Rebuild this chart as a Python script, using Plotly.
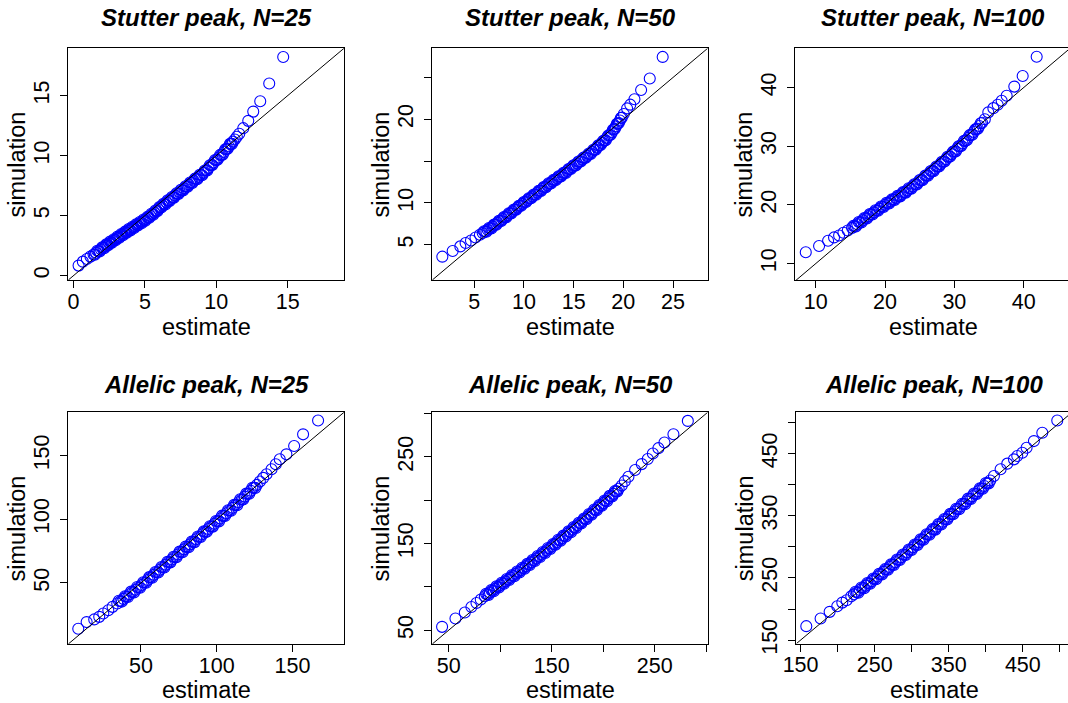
import plotly.graph_objects as go

# ---------------- data ----------------
titles = ["Stutter peak, N=25", "Stutter peak, N=50", "Stutter peak, N=100",
          "Allelic peak, N=25", "Allelic peak, N=50", "Allelic peak, N=100"]

# main quantile path
est1 = [0.35, 0.65, 0.93, 1.18, 1.40, 1.58, 1.75, 1.92, 2.08, 2.22, 2.36, 2.50, 2.63, 2.76, 2.89,
        3.02, 3.15, 3.28, 3.41, 3.54, 3.67, 3.80, 3.93, 4.06, 4.19, 4.32, 4.45, 4.58, 4.71, 4.84,
        4.97, 5.10, 5.24, 5.38, 5.52, 5.66, 5.80, 5.94, 6.08, 6.22, 6.37, 6.52, 6.67, 6.82, 6.97,
        7.12, 7.28, 7.44, 7.60, 7.76, 7.92, 8.08, 8.25, 8.42, 8.59, 8.76, 8.93, 9.10, 9.28, 9.46,
        9.64, 9.82, 10.00, 10.18, 10.36, 10.54, 10.72, 10.88, 11.03, 11.17, 11.30, 11.44, 11.61,
        11.89, 12.24, 12.59, 13.08, 13.71, 14.69]
sim1 = [0.83, 1.16, 1.38, 1.58, 1.76, 1.90, 2.04, 2.18, 2.32, 2.44, 2.56, 2.68, 2.78, 2.88, 2.99,
        3.10, 3.20, 3.30, 3.41, 3.51, 3.62, 3.72, 3.82, 3.92, 4.02, 4.12, 4.22, 4.32, 4.42, 4.52,
        4.62, 4.73, 4.85, 4.98, 5.11, 5.25, 5.39, 5.55, 5.70, 5.83, 5.96, 6.10, 6.24, 6.38, 6.52,
        6.67, 6.82, 6.97, 7.12, 7.27, 7.42, 7.58, 7.74, 7.90, 8.06, 8.22, 8.38, 8.56, 8.76, 8.98,
        9.21, 9.42, 9.64, 9.85, 10.06, 10.30, 10.55, 10.78, 10.98, 11.17, 11.35, 11.57, 11.82,
        12.29, 12.90, 13.67, 14.53, 16.02, 18.23]
# extra points inside the dense band
est1b = [1.49, 1.66, 1.83, 2.00, 2.15, 2.29, 2.43, 2.56, 2.69, 2.82, 2.95, 3.08, 3.21, 3.34, 3.47,
         3.60, 3.73, 3.86, 3.99, 4.12, 4.25, 4.38, 4.51, 4.64, 4.77, 4.90, 5.03, 5.17, 5.31, 5.45,
         5.59, 5.73, 5.87, 6.01, 6.15, 6.29, 6.44, 6.59, 6.74, 6.89, 7.04, 7.20, 7.36, 7.52, 7.68,
         7.84, 8.00, 8.16, 8.33, 8.50, 8.67, 8.84, 9.01, 9.19, 9.37, 9.55, 9.73, 9.91, 10.09, 10.27,
         10.45, 10.63, 10.80, 10.96, 11.10]
sim1b = [1.73, 2.07, 2.01, 2.35, 2.28, 2.60, 2.52, 2.83, 2.73, 3.03, 2.94, 3.25, 3.15, 3.46, 3.36,
         3.66, 3.57, 3.87, 3.77, 4.07, 3.97, 4.27, 4.17, 4.47, 4.37, 4.67, 4.58, 4.89, 4.82, 5.15,
         5.08, 5.42, 5.37, 5.72, 5.67, 5.99, 5.93, 6.27, 6.21, 6.55, 6.50, 6.85, 6.80, 7.15, 7.10,
         7.45, 7.40, 7.76, 7.72, 8.08, 8.04, 8.40, 8.37, 8.76, 8.77, 9.20, 9.22, 9.63, 9.65, 10.06,
         10.08, 10.53, 10.57, 10.98, 10.98]

est2 = [1.79, 2.83, 3.60, 4.13, 4.67, 5.13, 5.57, 5.85, 6.10, 6.35, 6.60, 6.85, 7.10, 7.35, 7.60,
        7.85, 8.10, 8.35, 8.60, 8.85, 9.10, 9.35, 9.60, 9.85, 10.10, 10.35, 10.60, 10.85, 11.10,
        11.35, 11.60, 11.85, 12.10, 12.35, 12.60, 12.85, 13.10, 13.35, 13.60, 13.85, 14.10, 14.35,
        14.60, 14.85, 15.10, 15.35, 15.60, 15.85, 16.10, 16.35, 16.60, 16.85, 17.10, 17.35, 17.60,
        17.85, 18.10, 18.35, 18.60, 18.85, 19.05, 19.25, 19.45, 19.65, 19.85, 20.05, 20.38, 20.70,
        21.12, 21.79, 22.66, 23.96]
sim2 = [3.57, 4.25, 4.80, 5.20, 5.51, 5.87, 6.19, 6.40, 6.58, 6.78, 6.97, 7.17, 7.40, 7.62, 7.84,
        8.07, 8.30, 8.52, 8.75, 8.98, 9.20, 9.43, 9.65, 9.88, 10.10, 10.33, 10.55, 10.78, 11.00,
        11.22, 11.45, 11.67, 11.90, 12.12, 12.33, 12.55, 12.75, 12.95, 13.15, 13.38, 13.60, 13.82,
        14.05, 14.28, 14.50, 14.72, 14.95, 15.18, 15.40, 15.62, 15.85, 16.10, 16.35, 16.62, 16.90,
        17.18, 17.45, 17.78, 18.10, 18.45, 18.80, 19.15, 19.50, 19.85, 20.20, 20.64, 21.30, 21.75,
        22.39, 23.50, 24.88, 27.46]
est2b = [5.98, 6.23, 6.48, 6.73, 6.98, 7.23, 7.48, 7.73, 7.98, 8.23, 8.48, 8.73, 8.98, 9.23, 9.48,
         9.73, 9.98, 10.23, 10.48, 10.73, 10.98, 11.23, 11.48, 11.73, 11.98, 12.23, 12.48, 12.73,
         12.98, 13.23, 13.48, 13.73, 13.98, 14.23, 14.48, 14.73, 14.98, 15.23, 15.48, 15.73, 15.98,
         16.23, 16.48, 16.73, 16.98, 17.23, 17.48, 17.73, 17.98, 18.23, 18.48, 18.73, 18.95, 19.15,
         19.35, 19.55, 19.75]
sim2b = [6.61, 6.56, 7.00, 6.95, 7.40, 7.39, 7.85, 7.84, 8.31, 8.29, 8.76, 8.75, 9.21, 9.20, 9.66,
         9.65, 10.11, 10.10, 10.56, 10.55, 11.01, 10.99, 11.46, 11.44, 11.91, 11.89, 12.35, 12.32,
         12.77, 12.73, 13.17, 13.15, 13.61, 13.59, 14.06, 14.05, 14.51, 14.49, 14.96, 14.95, 15.41,
         15.39, 15.86, 15.86, 16.35, 16.37, 16.88, 16.92, 17.44, 17.50, 18.06, 18.16, 18.75, 18.86,
         19.45, 19.56, 20.15]

est3 = [8.56, 10.48, 11.78, 12.64, 13.37, 13.99, 14.62, 15.24, 15.60, 16.00, 16.40, 16.80, 17.20,
        17.60, 18.00, 18.40, 18.80, 19.20, 19.60, 20.00, 20.40, 20.80, 21.20, 21.60, 22.00, 22.40,
        22.80, 23.20, 23.60, 24.00, 24.40, 24.80, 25.20, 25.60, 26.00, 26.40, 26.80, 27.20, 27.60,
        28.00, 28.40, 28.80, 29.20, 29.60, 30.00, 30.40, 30.80, 31.20, 31.60, 32.00, 32.40, 32.80,
        33.20, 33.60, 34.00, 34.40, 34.90, 35.63, 36.25, 36.83, 37.55, 38.65, 39.86, 41.88]
sim3 = [11.92, 12.99, 13.89, 14.46, 14.79, 15.25, 15.64, 16.09, 16.35, 16.70, 17.05, 17.38, 17.72,
        18.06, 18.40, 18.72, 19.04, 19.36, 19.68, 20.00, 20.30, 20.60, 20.90, 21.20, 21.50, 21.82,
        22.14, 22.46, 22.80, 23.15, 23.50, 23.87, 24.23, 24.60, 25.00, 25.38, 25.76, 26.15, 26.55,
        26.95, 27.37, 27.80, 28.22, 28.66, 29.10, 29.55, 30.02, 30.48, 30.96, 31.45, 31.93, 32.42,
        32.92, 33.45, 34.00, 34.60, 35.78, 36.50, 37.07, 37.75, 38.60, 40.17, 41.98, 45.25]
est3b = [15.42, 15.80, 16.20, 16.60, 17.00, 17.40, 17.80, 18.20, 18.60, 19.00, 19.40, 19.80, 20.20,
         20.60, 21.00, 21.40, 21.80, 22.20, 22.60, 23.00, 23.40, 23.80, 24.20, 24.60, 25.00, 25.40,
         25.80, 26.20, 26.60, 27.00, 27.40, 27.80, 28.20, 28.60, 29.00, 29.40, 29.80, 30.20, 30.60,
         31.00, 31.40, 31.80, 32.20, 32.60, 33.00, 33.40, 33.80]
sim3b = [16.42, 16.33, 17.08, 17.02, 17.75, 17.69, 18.43, 18.36, 19.08, 19.00, 19.72, 19.64, 20.35,
         20.25, 20.95, 20.85, 21.55, 21.46, 22.18, 22.10, 22.83, 22.78, 23.53, 23.49, 24.25, 24.22,
         25.00, 24.99, 25.77, 25.76, 26.55, 26.55, 27.36, 27.39, 28.21, 28.24, 29.08, 29.13, 29.99,
         30.05, 30.92, 31.01, 31.89, 31.98, 32.87, 32.99, 33.93]

est4 = [8.68, 14.20, 19.20, 22.50, 25.20, 28.50, 31.30, 34.40, 36.50, 38.50, 40.50, 42.50, 44.50,
        46.50, 48.50, 50.50, 52.50, 54.50, 56.50, 58.50, 60.50, 62.50, 64.50, 66.50, 68.50, 70.50,
        72.50, 74.50, 76.50, 78.50, 80.50, 82.50, 84.50, 86.50, 88.50, 90.50, 92.50, 94.50, 96.50,
        98.50, 100.50, 102.50, 104.50, 106.50, 108.50, 110.50, 112.50, 114.50, 116.50, 118.50,
        120.50, 122.50, 124.50, 126.50, 128.50, 130.70, 132.90, 136.20, 139.00, 141.60, 146.00,
        151.10, 157.00, 166.90]
sim4 = [14.06, 19.30, 21.40, 23.40, 26.00, 28.60, 31.25, 33.90, 35.70, 37.50, 39.30, 41.10, 42.90,
        44.70, 46.50, 48.40, 50.40, 52.40, 54.40, 56.40, 58.40, 60.40, 62.40, 64.40, 66.40, 68.40,
        70.40, 72.40, 74.40, 76.40, 78.30, 80.30, 82.30, 84.30, 86.30, 88.30, 90.30, 92.40, 94.40,
        96.50, 98.50, 100.60, 102.70, 104.80, 106.90, 109.00, 111.20, 113.40, 115.60, 117.80,
        120.10, 122.40, 124.70, 127.00, 129.70, 132.50, 135.40, 139.30, 143.20, 147.10, 151.00,
        157.60, 166.70, 177.60]
est4b = [35.45, 37.5, 39.5, 41.5, 43.5, 45.5, 47.5, 49.5, 51.5, 53.5, 55.5, 57.5, 59.5, 61.5, 63.5,
         65.5, 67.5, 69.5, 71.5, 73.5, 75.5, 77.5, 79.5, 81.5, 83.5, 85.5, 87.5, 89.5, 91.5, 93.5,
         95.5, 97.5, 99.5, 101.5, 103.5, 105.5, 107.5, 109.5, 111.5, 113.5, 115.5, 117.5, 119.5,
         121.5, 123.5, 125.5]
sim4b = [36.0, 35.4, 39.6, 39.0, 43.2, 42.6, 46.8, 46.25, 50.6, 50.2, 54.6, 54.2, 58.6, 58.2, 62.6,
         62.2, 66.6, 66.2, 70.6, 70.2, 74.6, 74.2, 78.55, 78.1, 82.5, 82.1, 86.5, 86.1, 90.5, 90.15,
         94.6, 94.25, 98.7, 98.35, 102.85, 102.55, 107.05, 106.75, 111.3, 111.1, 115.7, 115.5,
         120.15, 120.05, 124.75, 124.65]

est5 = [43.5, 56.5, 65.6, 72.0, 76.9, 81.1, 85.0, 87.5, 90.0, 92.5, 95.0, 97.5, 100.0, 102.5,
        105.0, 107.5, 110.0, 112.5, 115.0, 117.5, 120.0, 122.5, 125.0, 127.5, 130.0, 132.5, 135.0,
        137.5, 140.0, 142.5, 145.0, 147.5, 150.0, 152.5, 155.0, 157.5, 160.0, 162.5, 165.0, 167.5,
        170.0, 172.5, 175.0, 177.5, 180.0, 182.5, 185.0, 187.5, 190.0, 192.5, 195.0, 197.5, 200.0,
        202.5, 205.0, 207.5, 210.0, 212.5, 215.0, 218.0, 221.0, 224.5, 231.0, 237.4, 243.3, 248.2,
        253.6, 259.5, 268.2, 282.2]
sim5 = [53.8, 63.4, 70.3, 76.8, 81.4, 85.3, 89.1, 91.3, 93.4, 95.6, 97.7, 99.9, 102.0, 104.2,
        106.3, 108.5, 110.6, 112.8, 115.0, 117.1, 119.3, 121.5, 123.7, 125.9, 128.2, 130.4, 132.7,
        135.0, 137.3, 139.6, 141.9, 144.2, 146.6, 149.0, 151.4, 153.8, 156.2, 158.6, 161.1, 163.5,
        166.0, 168.5, 171.0, 173.5, 176.0, 178.5, 181.1, 183.6, 186.2, 188.8, 191.4, 194.0, 196.6,
        199.3, 202.0, 204.6, 207.3, 210.2, 213.3, 217.0, 222.0, 227.1, 234.8, 241.7, 247.5, 254.0,
        260.1, 266.6, 276.2, 291.6]
est5b = [86.25, 88.75, 91.25, 93.75, 96.25, 98.75, 101.25, 103.75, 106.25, 108.75, 111.25, 113.75,
         116.25, 118.75, 121.25, 123.75, 126.25, 128.75, 131.25, 133.75, 136.25, 138.75, 141.25,
         143.75, 146.25, 148.75, 151.25, 153.75, 156.25, 158.75, 161.25, 163.75, 166.25, 168.75,
         171.25, 173.75, 176.25, 178.75, 181.25, 183.75, 186.25, 188.75, 191.25, 193.75, 196.25,
         198.75, 201.25, 203.75, 206.25, 208.75, 211.25, 213.75]
sim5b = [91.9, 90.65, 96.2, 94.95, 100.5, 99.25, 104.8, 103.55, 109.1, 107.85, 113.4, 112.2, 117.75,
         116.5, 122.1, 120.9, 126.5, 125.35, 131.0, 129.85, 135.55, 134.45, 140.15, 139.05, 144.75,
         143.7, 149.5, 148.5, 154.3, 153.3, 159.1, 158.15, 164.0, 163.05, 168.95, 168.05, 173.95,
         173.05, 178.95, 178.1, 184.05, 183.2, 189.2, 188.4, 194.4, 193.6, 199.65, 198.95, 205.0,
         204.25, 210.45, 210.05]

est6 = [157.7, 177.0, 189.2, 199.5, 206.3, 212.1, 218.4, 222.0, 226.0, 230.0, 234.0, 238.0, 242.0,
        246.0, 250.0, 254.0, 258.0, 262.0, 266.0, 270.0, 274.0, 278.0, 282.0, 286.0, 290.0, 294.0,
        298.0, 302.0, 306.0, 310.0, 314.0, 318.0, 322.0, 326.0, 330.0, 334.0, 338.0, 342.0, 346.0,
        350.0, 354.0, 358.0, 362.0, 366.0, 370.0, 374.0, 378.0, 382.0, 386.0, 390.0, 394.0, 398.0,
        402.0, 406.0, 411.0, 420.0, 429.0, 438.0, 442.5, 449.3, 455.1, 465.0, 476.3, 496.5]
sim6 = [172.4, 184.7, 195.4, 204.4, 210.3, 214.0, 220.4, 223.6, 227.0, 230.5, 234.1, 237.6, 241.2,
        244.8, 248.5, 252.2, 256.0, 259.8, 263.6, 267.5, 271.4, 275.3, 279.3, 283.3, 287.3, 291.3,
        295.4, 299.4, 303.5, 307.6, 311.7, 315.8, 319.9, 324.0, 328.1, 332.2, 336.3, 340.4, 344.5,
        348.6, 352.7, 356.8, 360.9, 365.0, 369.1, 373.2, 377.3, 381.4, 385.5, 389.6, 393.8, 398.0,
        402.3, 406.8, 414.1, 424.8, 433.9, 440.8, 446.2, 451.5, 459.5, 470.2, 483.5, 503.3]
est6b = [224, 228, 232, 236, 240, 244, 248, 252, 256, 260, 264, 268, 272, 276, 280, 284, 288, 292,
         296, 300, 304, 308, 312, 316, 320, 324, 328, 332, 336, 340, 344, 348, 352, 356, 360, 364,
         368, 372, 376, 380, 384, 388, 392, 396, 400, 404]
sim6b = [227.7, 226.35, 234.7, 233.45, 241.8, 240.6, 249.05, 247.95, 256.5, 255.5, 264.1, 263.15,
         271.85, 270.95, 279.7, 278.9, 287.7, 286.9, 295.75, 295.0, 303.85, 303.15, 312.05, 311.35,
         320.25, 319.55, 328.45, 327.75, 336.65, 335.95, 344.85, 344.15, 353.05, 352.35, 361.25,
         360.55, 369.45, 368.75, 377.65, 376.95, 385.85, 385.15, 394.1, 393.5, 402.55, 402.15]

# tick values / labels per panel (x, y)
ticks1 = [0, 5, 10, 15]
labels1 = ["0", "5", "10", "15"]
ticks2 = [5, 10, 15, 20, 25]
xlabels2 = ["5", "10", "15", "20", "25"]
ylabels2 = ["5", "10", "", "20", ""]
ticks3 = [10, 20, 30, 40]
labels3 = ["10", "20", "30", "40"]
ticks4 = [50, 100, 150]
labels4 = ["50", "100", "150"]
ticks5 = [50, 100, 150, 200, 250, 300]
labels5 = ["50", "", "150", "", "250", ""]
ticks6 = [150, 200, 250, 300, 350, 400, 450, 500]
labels6 = ["150", "", "250", "", "350", "", "450", ""]

xlab = "estimate"
ylab = "simulation"

# ---------------- layout geometry (pixels) ----------------
W, H = 1068, 703
FONT = "Liberation Sans, Arial, sans-serif"

panels = [
    dict(est=est1 + est1b, sim=sim1 + sim1b, box=(68.3, 344.0, 48.3, 280.0),
         xr=(-0.37, 18.95), yr=(-0.37, 18.95),
         xt=ticks1, xtt=labels1, yt=ticks1, ytt=labels1, rmirror=True),
    dict(est=est2 + est2b, sim=sim2 + sim2b, box=(432.3, 707.7, 48.3, 280.0),
         xr=(0.78, 28.49), yr=(0.78, 28.49),
         xt=ticks2, xtt=xlabels2, yt=ticks2, ytt=ylabels2, rmirror=True),
    dict(est=est3 + est3b, sim=sim3 + sim3b, box=(795.3, 1068.0, 48.3, 280.0),
         xr=(7.05, 46.4), yr=(7.2, 46.7),
         xt=ticks3, xtt=labels3, yt=ticks3, ytt=labels3, rmirror=False),
    dict(est=est4 + est4b, sim=sim4 + sim4b, box=(68.3, 344.0, 412.3, 644.0),
         xr=(2.1, 184.0), yr=(2.1, 184.0),
         xt=ticks4, xtt=labels4, yt=ticks4, ytt=labels4, rmirror=True),
    dict(est=est5 + est5b, sim=sim5 + sim5b, box=(432.3, 707.7, 412.3, 644.0),
         xr=(34.0, 301.5), yr=(34.0, 301.5),
         xt=ticks5, xtt=labels5, yt=ticks5, ytt=labels5, rmirror=True),
    dict(est=est6 + est6b, sim=sim6 + sim6b, box=(796.3, 1068.0, 412.3, 643.5),
         xr=(144.2, 511.0), yr=(144.5, 516.5),
         xt=ticks6, xtt=labels6, yt=ticks6, ytt=labels6, rmirror=False),
]

fig = go.Figure()
annotations = []
layout = {}

for i, p in enumerate(panels):
    n = i + 1
    xa = "x" if n == 1 else f"x{n}"
    ya = "y" if n == 1 else f"y{n}"
    xl, xr_, yt_, yb = p["box"]
    fig.add_trace(go.Scatter(
        x=p["est"], y=p["sim"], mode="markers", xaxis=xa, yaxis=ya,
        marker=dict(symbol="circle-open", size=11, color="#0000FF",
                    line=dict(color="#0000FF", width=1.1)),
        showlegend=False, hoverinfo="skip"))
    lo = min(p["xr"][0], p["yr"][0])
    hi = max(p["xr"][1], p["yr"][1])
    fig.add_trace(go.Scatter(
        x=[lo, hi], y=[lo, hi], mode="lines", xaxis=xa, yaxis=ya,
        line=dict(color="black", width=1), showlegend=False, hoverinfo="skip"))

    common = dict(showgrid=False, zeroline=False, showline=True, linecolor="black",
                  linewidth=1, ticks="outside", ticklen=7, tickwidth=1, tickcolor="black",
                  tickfont=dict(family=FONT, size=21.5, color="black"), tickmode="array",
                  automargin=False)
    layout["xaxis" if n == 1 else f"xaxis{n}"] = dict(
        common, domain=[xl / W, xr_ / W], range=list(p["xr"]), anchor=ya,
        tickvals=p["xt"], ticktext=p["xtt"], mirror=True, tickangle=0,
        ticklabelstandoff=-5)
    layout["yaxis" if n == 1 else f"yaxis{n}"] = dict(
        common, domain=[1 - yb / H, 1 - yt_ / H], range=list(p["yr"]), anchor=xa,
        tickvals=p["yt"], ticktext=p["ytt"], mirror=p["rmirror"], tickangle=-90,
        ticklabelstandoff=3)

    full_right = xr_ if p["rmirror"] else xl + 275.5
    cx = (xl + full_right) / 2
    row_top = i < 3
    annotations.append(dict(
        text=f"<b><i>{titles[i]}</i></b>", xref="paper", yref="paper",
        x=cx / W, y=1 - (18 if row_top else 384) / H, xanchor="center", yanchor="middle",
        showarrow=False, font=dict(family=FONT, size=24, color="black")))
    annotations.append(dict(
        text=xlab, xref="paper", yref="paper",
        x=cx / W, y=1 - (327 if row_top else 690) / H, xanchor="center", yanchor="middle",
        showarrow=False, font=dict(family=FONT, size=23.5, color="black")))
    annotations.append(dict(
        text=ylab, xref="paper", yref="paper", textangle=-90,
        x=(xl - 51) / W, y=1 - ((yt_ + yb) / 2) / H, xanchor="center", yanchor="middle",
        showarrow=False, font=dict(family=FONT, size=23.5, color="black")))

fig.update_layout(
    width=W, height=H, margin=dict(l=0, r=0, t=0, b=0, autoexpand=False),
    paper_bgcolor="white", plot_bgcolor="white",
    annotations=annotations, **layout)

fig.write_html("out.html")
